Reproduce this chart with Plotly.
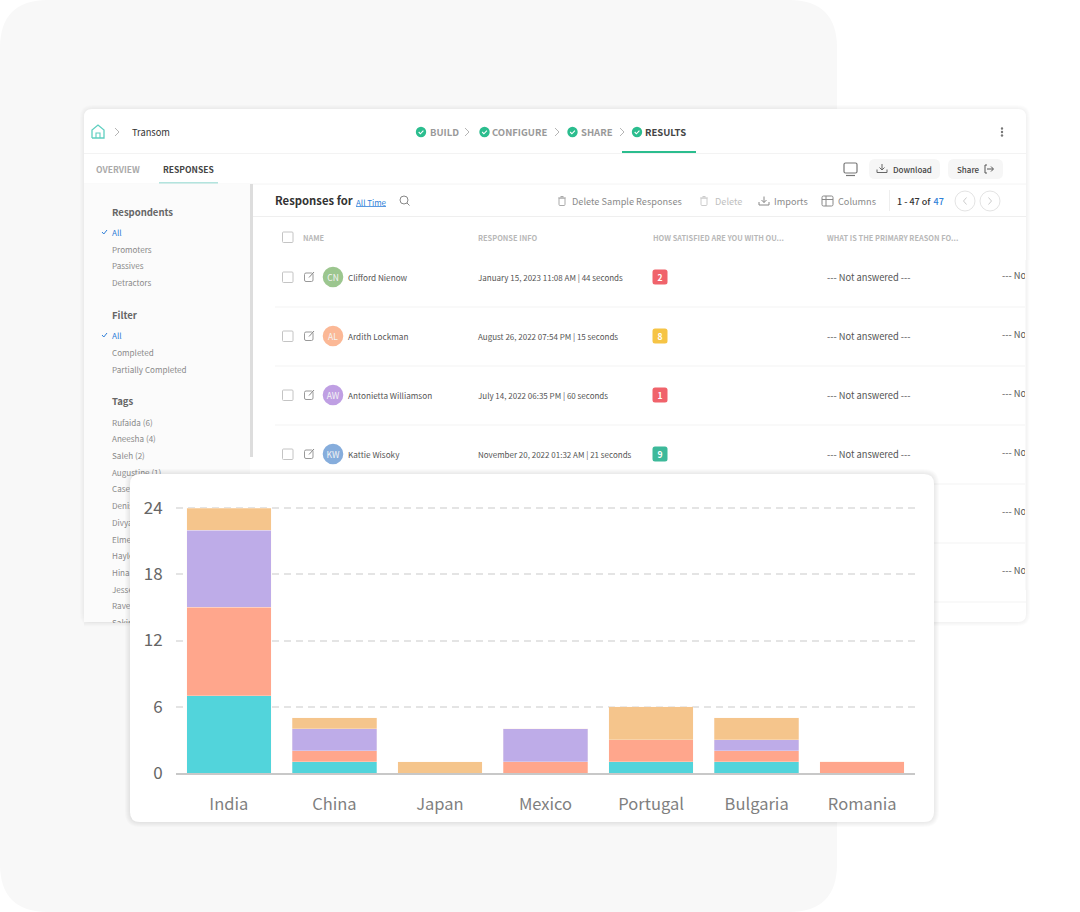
import plotly.graph_objects as go

FONT = "Noto Sans CJK SC, Lato, sans-serif"

# chart data
countries = ["India", "China", "Japan", "Mexico", "Portugal", "Bulgaria", "Romania"]
teal_vals = [7, 1, 0, 0, 1, 1, 0]
salmon_vals = [8, 1, 0, 1, 2, 1, 1]
purple_vals = [7, 2, 0, 3, 0, 1, 0]
orange_vals = [2, 1, 1, 0, 3, 2, 0]
y_ticks = [0, 6, 12, 18, 24]

# table rows behind the chart
row_names = ["Clifford Nienow", "Ardith Lockman", "Antonietta Williamson", "Kattie Wisoky"]
row_initials = ["CN", "AL", "AW", "KW"]
row_colors = ["#9cc68f", "#fbb896", "#bf9fe3", "#86addc"]
row_info = ["January 15, 2023 11:08 AM | 44 seconds", "August 26, 2022 07:54 PM | 15 seconds",
            "July 14, 2022 06:35 PM | 60 seconds", "November 20, 2022 01:32 AM | 21 seconds"]
row_scores = ["2", "8", "1", "9"]
row_score_colors = ["#f0636b", "#f6c445", "#f0636b", "#3db99a"]
row_ys = [277, 336, 395, 454]

GREEN = "#2bbd8e"
GRAY = "#8a8a8a"
LIGHT = "#b8b8b8"
DARK = "#333333"
BLUE = "#2f7fd8"

ui_shapes = []
top_shapes = []
texts = []


def rrect(x0, y0, x1, y1, r, fill="rgba(0,0,0,0)", line=None, lw=1, ax=""):
    p = (f"M{x0+r},{y0} L{x1-r},{y0} Q{x1},{y0} {x1},{y0+r} L{x1},{y1-r} Q{x1},{y1} {x1-r},{y1} "
         f"L{x0+r},{y1} Q{x0},{y1} {x0},{y1-r} L{x0},{y0+r} Q{x0},{y0} {x0+r},{y0} Z")
    return dict(type="path", path=p, fillcolor=fill, xref=f"x{ax}", yref=f"y{ax}", layer="below",
                line=dict(color=line or "rgba(0,0,0,0)", width=lw if line else 0))


def poly(pts, color=GRAY, w=1.0, ax=""):
    p = "M" + " L".join(f"{x},{y}" for x, y in pts)
    return dict(type="path", path=p, xref=f"x{ax}", yref=f"y{ax}", layer="below",
                line=dict(color=color, width=w))


def circle(cx, cy, r, fill="rgba(0,0,0,0)", line=None, lw=1):
    return dict(type="circle", x0=cx-r, x1=cx+r, y0=cy-r, y1=cy+r, xref="x", yref="y", layer="below",
                fillcolor=fill, line=dict(color=line or "rgba(0,0,0,0)", width=lw if line else 0))


def txt(x, y, s, size=9, color=GRAY, weight=400, pos="middle right"):
    # the font sits a little high in plotly's middle alignment
    texts.append((x, y + 1.5, s, size, color, weight, pos))


def chevron(x, y, color="#b5b5b5"):
    ui_shapes.append(poly([(x-2, y-4), (x+2, y), (x-2, y+4)], color, 1))


def step(cx, label, x, color):
    ui_shapes.append(circle(cx, 132, 5.2, GREEN))
    ui_shapes.append(poly([(cx-2.3, 132), (cx-0.6, 133.8), (cx+2.4, 130.6)], "white", 1.1))
    txt(x, 132, label, 9.5, color, 600)


def trash(x, y, color):
    ui_shapes.append(rrect(x-3, y-3, x+3, y+4.5, 1, line=color))
    ui_shapes.append(poly([(x-4, y-3), (x+4, y-3)], color))
    ui_shapes.append(poly([(x-1.5, y-4.5), (x+1.5, y-4.5)], color))


def download(x, y, color):
    ui_shapes.append(poly([(x, y-4.5), (x, y+1.5)], color))
    ui_shapes.append(poly([(x-2.5, y-1), (x, y+1.5), (x+2.5, y-1)], color))
    ui_shapes.append(poly([(x-5, y+1), (x-5, y+4), (x+5, y+4), (x+5, y+1)], color))


# backdrop and app window
ui_shapes.append(rrect(0, 0, 837, 912, 48, "#f8f8f8"))
for i in range(4, 0, -1):
    ui_shapes.append(rrect(84-i, 109-i, 1026+i, 622+i, 8+i, "rgba(0,0,0,0.013)"))
ui_shapes.append(rrect(84, 109, 1026, 622, 8, "white"))

# top bar
ui_shapes.append(poly([(92, 138), (92, 130), (98, 125), (104, 130), (104, 138), (92, 138)], "#5fcfc0", 1.3))
ui_shapes.append(poly([(96, 138), (96, 133), (100, 133), (100, 138)], "#5fcfc0", 1.1))
chevron(117, 132)
txt(132, 132, "Transom", 9.3, DARK)
step(421, "BUILD", 430, "#999999")
chevron(467, 132)
step(484.5, "CONFIGURE", 492, "#999999")
chevron(557, 132)
step(572.5, "SHARE", 581, "#999999")
chevron(622, 132)
step(637, "RESULTS", 645, "#444444")
ui_shapes.append(poly([(622, 152), (696, 152)], GREEN, 2))
for dy in (-3.5, 0, 3.5):
    ui_shapes.append(circle(1002, 132+dy, 1.2, "#777777"))
ui_shapes.append(poly([(84, 153.5), (1026, 153.5)], "#f3f3f3"))

# tabs
txt(96, 169, "OVERVIEW", 8.5, "#aaaaaa", 600)
txt(163, 169, "RESPONSES", 8.5, "#444444", 700)
ui_shapes.append(poly([(159, 183), (218, 183)], "#66c9bd", 1))
ui_shapes.append(poly([(84, 184), (1026, 184)], "#f4f4f4"))
ui_shapes.append(rrect(844, 163, 857, 173, 1.5, line="#777777", lw=1.2))
ui_shapes.append(poly([(846, 175.5), (855, 175.5)], "#777777", 1.2))
ui_shapes.append(rrect(869, 159, 940, 179, 6, "#f6f6f6"))
download(882, 168.5, "#666666")
txt(893, 169, "Download", 8, "#444444", 500)
ui_shapes.append(rrect(948, 159, 1003, 179, 6, "#f6f6f6"))
txt(957, 169, "Share", 8, "#444444", 500)
ui_shapes.append(poly([(987, 165), (985, 165), (985, 173), (987, 173)], "#555555"))
ui_shapes.append(poly([(987, 169), (993, 169)], "#555555"))
ui_shapes.append(poly([(991, 166.5), (993.5, 169), (991, 171.5)], "#555555"))

# sidebar
ui_shapes.append(rrect(84, 184, 250, 622, 0, "#fbfbfb"))
ui_shapes.append(poly([(251.5, 184), (251.5, 457)], "#dddddd", 3))
for label, y in [("Respondents", 212), ("Filter", 315), ("Tags", 401)]:
    txt(112, y, label, 9.5, "#666666", 600)
for y in (232, 335):
    txt(112, y, "All", 8.2, BLUE)
    ui_shapes.append(poly([(102, y), (103.8, y+2), (107, y-2)], BLUE, 1))
for label, y in [("Promoters", 249), ("Passives", 265.5), ("Detractors", 282), ("Completed", 352),
                 ("Partially Completed", 369), ("Rufaida (6)", 422), ("Aneesha (4)", 438.5),
                 ("Saleh (2)", 455), ("Augustine (1)", 472), ("Casey", 488.5), ("Denis", 505),
                 ("Divya", 522), ("Elmer", 539), ("Hayley", 555.5), ("Hina", 572),
                 ("Jesse", 589), ("Raven", 605.5), ("Sakina", 622)]:
    txt(112, y, label, 8.1, GRAY)

# toolbar
txt(275, 200.5, "Responses for", 11.3, DARK, 600)
txt(356, 202, "All Time", 8, BLUE)
ui_shapes.append(poly([(356, 206.5), (386, 206.5)], BLUE, 0.8))
ui_shapes.append(circle(404, 200, 4, line="#888888"))
ui_shapes.append(poly([(407, 203), (409.5, 205.5)], "#888888"))
trash(562, 201, "#aaaaaa")
txt(572, 201, "Delete Sample Responses", 9.2, GRAY)
trash(704, 201, "#cccccc")
txt(715, 201, "Delete", 9.2, "#c0c0c0")
download(764, 201, "#888888")
txt(774, 201, "Imports", 9.2, GRAY)
ui_shapes.append(rrect(822, 196, 833, 206, 1.5, line="#888888"))
ui_shapes.append(poly([(822, 199.5), (833, 199.5)], "#888888"))
ui_shapes.append(poly([(826, 196), (826, 206)], "#888888"))
txt(838, 201, "Columns", 9.2, GRAY)
ui_shapes.append(poly([(889.5, 190), (889.5, 211)], "#eeeeee"))
txt(897, 201, "1 - 47 of", 9, DARK, 500)
txt(933.5, 201, "47", 9, BLUE, 500)
for cx, d in [(965, -1), (990, 1)]:
    ui_shapes.append(circle(cx, 201, 10, "white", "#e4e4e4"))
    ui_shapes.append(poly([(cx-d*1.5, 197.5), (cx+d*1.5, 201), (cx-d*1.5, 204.5)], "#cccccc"))
ui_shapes.append(poly([(253, 216.5), (1026, 216.5)], "#efefef"))

# table header
ui_shapes.append(rrect(282.5, 232, 293, 242.5, 1, "white", "#c4c4c4"))
for label, x in [("NAME", 303), ("RESPONSE INFO", 478), ("HOW SATISFIED ARE YOU WITH OU...", 653),
                 ("WHAT IS THE PRIMARY REASON FO...", 827)]:
    txt(x, 237.5, label, 7.4, LIGHT, 600)

# table rows
for i, y in enumerate(row_ys):
    ui_shapes.append(rrect(282.5, y-5, 293, y+5.5, 1, "white", "#c4c4c4"))
    ui_shapes.append(rrect(304.5, y-4, 313, y+4.5, 1.5, line="#999999"))
    ui_shapes.append(poly([(309, y+0.5), (314, y-5)], "#888888"))
    ui_shapes.append(circle(333, y, 10.3, row_colors[i]))
    txt(333, y, row_initials[i], 8.5, "#f4f4f4", 400, "middle center")
    txt(348, y, row_names[i], 8.2, "#555555")
    txt(478, y, row_info[i], 8, "#555555")
    ui_shapes.append(rrect(652.5, y-7.5, 667.5, y+7.5, 2.5, row_score_colors[i]))
    txt(660, y, row_scores[i], 8.5, "white", 700, "middle center")
    txt(827, y, "--- Not answered ---", 9.3, "#555555")
for y in (275, 334, 393, 452, 511, 570):
    # cut off by the window edge, the strip below hides the tail
    txt(1002, y, "--- Not", 9.3, "#555555")
for y in (307, 366, 425, 484, 543, 602):
    ui_shapes.append(poly([(275, y), (1026, y)], "#f3f3f3"))

# things that sit over the app text: clip strips, shadows and the chart card
top_shapes.append(rrect(1025, 260, 1080, 590, 0, "white", ax="2"))
top_shapes.append(rrect(84, 623, 130, 640, 0, "#f8f8f8", ax="2"))
for i in range(4, 0, -1):
    top_shapes.append(poly([(1025+i, 260), (1025+i, 590)], f"rgba(0,0,0,{0.013*(5-i)})", ax="2"))
    top_shapes.append(poly([(84, 622+i), (130, 622+i)], f"rgba(0,0,0,{0.013*(5-i)})", ax="2"))
for i in range(5, 0, -1):
    top_shapes.append(rrect(130-i, 474-i, 934+i, 822+i, 10+i, "rgba(0,0,0,0.015)", ax="2"))
top_shapes.append(rrect(130, 474, 934, 822, 10, "white", ax="2"))

fig = go.Figure()

# first layer: all the app text on a pixel sized axis pair
fig.add_trace(go.Scatter(
    x=[t[0] for t in texts], y=[t[1] for t in texts], text=[t[2] for t in texts],
    mode="text", textposition=[t[6] for t in texts], hoverinfo="skip", cliponaxis=False,
    textfont=dict(family=FONT, size=[t[3] for t in texts], color=[t[4] for t in texts],
                  weight=[t[5] for t in texts]),
    xaxis="x", yaxis="y"))
# second layer only carries the card
fig.add_trace(go.Scatter(x=[None], y=[None], mode="lines", hoverinfo="skip", xaxis="x2", yaxis="y2"))

# the actual chart
series = [("teal", teal_vals, "#52d4db"), ("salmon", salmon_vals, "#ffa68c"),
          ("purple", purple_vals, "#beace8"), ("orange", orange_vals, "#f5c58c")]
for name, vals, color in series:
    fig.add_trace(go.Bar(x=countries, y=vals, name=name, marker=dict(color=color, line=dict(color="#fff5f0", width=0.3)),
                         xaxis="x3", yaxis="y3"))

pixel_x = dict(range=[0, 1080], domain=[0, 1], visible=False, fixedrange=True)
pixel_y = dict(range=[912, 0], domain=[0, 1], visible=False, fixedrange=True)

fig.update_layout(
    width=1080, height=912, margin=dict(l=0, r=0, t=0, b=0, pad=0, autoexpand=False),
    paper_bgcolor="white", plot_bgcolor="rgba(0,0,0,0)",
    showlegend=False, barmode="stack", bargap=0.2,
    font=dict(family=FONT),
    shapes=ui_shapes + top_shapes,
    xaxis=dict(pixel_x, anchor="y"), yaxis=dict(pixel_y, anchor="x"),
    xaxis2=dict(pixel_x, anchor="y2"), yaxis2=dict(pixel_y, anchor="x2"),
    xaxis3=dict(domain=[176/1080, 915/1080], anchor="y3", showline=True, linecolor="#c8c8c8", linewidth=2,
                showgrid=False, ticks="outside", ticklen=15, tickcolor="rgba(0,0,0,0)", layer="below traces",
                tickfont=dict(size=16.5, color="#7f7f7f", family=FONT), fixedrange=True),
    # top of the range sits a hair above 24, plotly drops a gridline that lands on the axis end
    yaxis3=dict(domain=[1-773/912, 1-505.8/912], anchor="x3", range=[0, 24.2], tickvals=y_ticks,
                showline=False, zeroline=False, showgrid=True, gridcolor="#e4e4e4", gridwidth=1.5,
                griddash="7px,5px", ticks="outside", ticklen=9, tickcolor="rgba(0,0,0,0)",
                tickfont=dict(size=17, color="#666666", family=FONT), layer="below traces", fixedrange=True),
)

fig.write_html("out.html", config=dict(displayModeBar=False), post_script="document.body.style.margin='0';")
